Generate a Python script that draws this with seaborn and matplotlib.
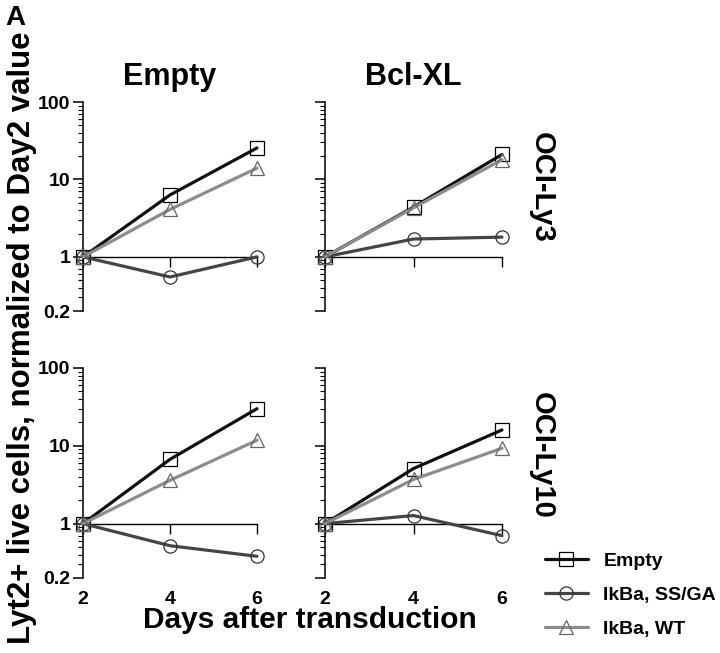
import matplotlib
matplotlib.use('Agg')
import matplotlib.pyplot as plt
import matplotlib.ticker as mticker
import seaborn as sns

sns.set_style('ticks')
plt.rcParams['font.family'] = ['Liberation Sans', 'DejaVu Sans']
plt.rcParams['font.weight'] = 'bold'
for k in ['text.color', 'axes.labelcolor', 'xtick.color', 'ytick.color', 'axes.edgecolor']:
    plt.rcParams[k] = 'black'

days = [2, 4, 6]
series = ['Empty', 'IkBa, SS/GA', 'IkBa, WT']
columns = ['Empty', 'Bcl-XL']
rows = ['OCI-Ly3', 'OCI-Ly10']

# normalized to Day2 value
ly3_empty = {'Empty': [1, 6.3, 25.5], 'IkBa, SS/GA': [1, 0.55, 1.0], 'IkBa, WT': [1, 4.1, 14]}
ly3_bcl = {'Empty': [1, 4.4, 21], 'IkBa, SS/GA': [1, 1.7, 1.8], 'IkBa, WT': [1, 4.3, 18]}
ly10_empty = {'Empty': [1, 6.7, 30], 'IkBa, SS/GA': [1, 0.52, 0.38], 'IkBa, WT': [1, 3.6, 11.8]}
ly10_bcl = {'Empty': [1, 5.1, 16], 'IkBa, SS/GA': [1, 1.27, 0.7], 'IkBa, WT': [1, 3.7, 9.3]}
panels = [[ly3_empty, ly3_bcl], [ly10_empty, ly10_bcl]]

yticks = [0.2, 1, 10, 100]
ytick_labels = ['0.2', '1', '10', '100']

colors = {'Empty': '#111111', 'IkBa, SS/GA': '#454545', 'IkBa, WT': '#8c8c8c'}
edge = {'Empty': '#000000', 'IkBa, SS/GA': '#333333', 'IkBa, WT': '#666666'}
markers = {'Empty': 's', 'IkBa, SS/GA': 'o', 'IkBa, WT': '^'}

fig = plt.figure(figsize=(7.2, 6.53), dpi=100)
W, H = 720, 653

# axes boxes in pixels: left, right, top, bottom
col_x = [(83, 257), (325, 502)]
row_y = [(102, 311), (368, 578)]

for r in range(2):
    for c in range(2):
        x0, x1 = col_x[c]
        y0, y1 = row_y[r]
        ax = fig.add_axes([x0 / W, (H - y1) / H, (x1 - x0) / W, (y1 - y0) / H])
        data = panels[r][c]
        for s in series:
            sns.lineplot(x=days, y=data[s], ax=ax, color=colors[s], lw=2.3,
                         marker=markers[s], markersize=9.5, mfc='none',
                         mec=edge[s], mew=0.9, label=s, legend=False,
                         clip_on=False, zorder=3)
        ax.set_yscale('log')
        ax.set_ylim(0.2, 100)
        ax.set_xlim(2, 6)
        ax.yaxis.set_major_locator(mticker.FixedLocator(yticks))
        ax.yaxis.set_minor_locator(mticker.LogLocator(base=10, subs=range(2, 10)))
        ax.yaxis.set_minor_formatter(mticker.NullFormatter())
        if c == 0:
            ax.set_yticklabels(ytick_labels)
        else:
            ax.set_yticklabels([])
        ax.tick_params(axis='y', which='major', left=True, direction='out', length=7,
                       width=1.1, pad=2, labelsize=14)
        ax.tick_params(axis='y', which='minor', left=True, direction='out', length=3.5,
                       width=0.8)
        for sp in ['top', 'right']:
            ax.spines[sp].set_visible(False)
        ax.spines['left'].set_linewidth(1.1)
        ax.spines['bottom'].set_position(('data', 1))
        ax.spines['bottom'].set_linewidth(1.0)
        ax.set_xticks(days)
        ax.tick_params(axis='x', bottom=True, direction='out', length=7, width=1.0,
                       labelbottom=False)
        ax.set_xlabel('')
        ax.set_ylabel('')
        ax.grid(False)
        ax.patch.set_alpha(0)
        if r == 1:
            sec = ax.secondary_xaxis('bottom')
            sec.set_xticks(days)
            sec.set_xticklabels([str(d) for d in days])
            sec.tick_params(length=0, pad=9, labelsize=14)
            sec.spines['bottom'].set_visible(False)
        if r == 0:
            ax.set_title(columns[c], fontsize=22, fontweight='bold', pad=12)
        if r == 1 and c == 1:
            handles, labels = ax.get_legend_handles_labels()

fig.text(542 / W, (H - 187) / H, rows[0], rotation=270, ha='center', va='center',
         fontsize=21, fontweight='bold')
fig.text(542 / W, (H - 455) / H, rows[1], rotation=270, ha='center', va='center',
         fontsize=21, fontweight='bold')
fig.text(22 / W, (H - 338) / H, 'Lyt2+ live cells, normalized to Day2 value',
         rotation=90, ha='center', va='center', fontsize=22.5, fontweight='bold')
fig.text(310 / W, (H - 628) / H, 'Days after transduction', ha='center',
         va='baseline', fontsize=21.5, fontweight='bold')
fig.text(5 / W, (H - 25) / H, 'A', ha='left', va='baseline', fontsize=20,
         fontweight='bold')

fig.legend(handles, labels, loc='center left', bbox_to_anchor=(545 / W, (H - 595) / H),
           frameon=False, borderpad=0, borderaxespad=0, handlelength=2.2,
           handletextpad=0.8, labelspacing=0.85, prop={'size': 14, 'weight': 'bold'})

fig.savefig('out.png', dpi=100)
